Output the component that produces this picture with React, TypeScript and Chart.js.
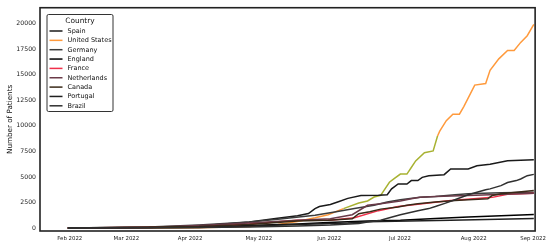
import React, { useEffect, useRef } from "react";
import { Chart, registerables } from "chart.js";

Chart.register(...registerables);

// x values: days after 1 Feb 2022 (position index)
const countries = ["Spain", "United States", "Germany", "England", "France", "Netherlands", "Canada", "Portugal", "Brazil"];

const spainX = [0, 37, 60, 83, 95, 105, 110, 113, 115, 120, 124, 128, 134, 142, 146, 148, 151, 155, 157, 160, 162, 165, 172, 175, 183, 187, 193, 201, 213];
const spainY = [0, 60, 200, 600, 940, 1200, 1420, 1900, 2100, 2300, 2600, 2900, 3190, 3200, 3250, 3830, 4310, 4310, 4640, 4640, 4960, 5120, 5220, 5770, 5770, 6090, 6250, 6570, 6670];

const usX = [0, 37, 60, 83, 96, 105, 113, 119, 126, 133, 137, 140, 143, 147, 149, 152, 155, 157, 159, 163, 167, 169, 170, 173, 176, 179, 181, 186, 191, 193, 197, 201, 204, 207, 210, 213];
const usY = [0, 5, 20, 150, 350, 650, 1000, 1300, 1900, 2450, 2650, 3030, 3190, 4480, 4800, 5280, 5280, 5920, 6570, 7370, 7540, 9000, 9470, 10500, 11140, 11140, 11880, 13980, 14140, 15430, 16550, 17360, 17360, 18160, 18810, 19930];

const germanyX = [0, 37, 60, 83, 96, 113, 122, 131, 140, 146, 152, 161, 168, 177, 183, 190, 198, 213];
const germanyY = [0, 100, 300, 600, 850, 1260, 1570, 1900, 2220, 2540, 2770, 3020, 3090, 3250, 3350, 3410, 3450, 3510];

const englandX = [0, 60, 83, 105, 119, 128, 137, 152, 168, 183, 198, 213];
const englandY = [0, 80, 250, 400, 550, 620, 700, 770, 940, 1090, 1190, 1320];

const franceX = [0, 60, 83, 105, 120, 131, 142, 151, 165, 175, 187, 194, 201, 213];
const franceY = [0, 100, 400, 750, 770, 1000, 1700, 2100, 2450, 2700, 2900, 3000, 3300, 3400];

const netherlandsX = [0, 37, 60, 83, 105, 120, 130, 137, 143, 152, 157, 161, 168, 183, 213];
const netherlandsY = [0, 80, 250, 500, 750, 900, 1300, 2220, 2380, 2640, 2870, 3020, 3090, 3190, 3410];

const canadaX = [0, 60, 83, 105, 119, 130, 133, 138, 143, 151, 155, 160, 168, 177, 183, 192, 194, 198, 205, 213];
const canadaY = [0, 150, 350, 700, 770, 900, 1400, 1600, 1850, 2060, 2220, 2380, 2540, 2700, 2770, 2870, 3190, 3350, 3510, 3670];

const portugalX = [0, 60, 83, 105, 128, 137, 175, 213];
const portugalY = [0, 50, 200, 350, 500, 610, 770, 940];

const brazilX = [0, 37, 60, 83, 105, 120, 133, 137, 143, 147, 152, 160, 165, 168, 172, 176, 183, 187, 191, 193, 198, 201, 205, 207, 210, 213];
const brazilY = [0, 20, 50, 100, 200, 300, 450, 600, 770, 1000, 1300, 1700, 1900, 2100, 2390, 2700, 3250, 3500, 3750, 3830, 4150, 4450, 4640, 4800, 5120, 5250];

const monthTickPos = [0.9, 26.8, 55.9, 87.3, 119.5, 151.8, 185.5, 212.7];
const monthTickLabels = ["Feb 2022", "Mar 2022", "Apr 2022", "May 2022", "Jun 2022", "Jul 2022", "Aug 2022", "Sep 2022"];
const yTicks = [0, 2500, 5000, 7500, 10000, 12500, 15000, 17500, 20000];

const seriesX = [spainX, usX, germanyX, englandX, franceX, netherlandsX, canadaX, portugalX, brazilX];
const seriesY = [spainY, usY, germanyY, englandY, franceY, netherlandsY, canadaY, portugalY, brazilY];
const colors = ["#1a1a1a", "#ff9a3c", "#3c3c3c", "#000000", "#f0304a", "#6a3a48", "#3a2a18", "#202020", "#303030"];

const FONT = "'DejaVu Sans', sans-serif";

const legendPlugin = {
  id: "boxLegend",
  afterDraw(chart: any) {
    const ctx = chart.ctx;
    const ca = chart.chartArea;
    ctx.save();
    ctx.strokeStyle = "#222";
    ctx.lineWidth = 1.6;
    ctx.strokeRect(ca.left, ca.top, ca.right - ca.left, ca.bottom - ca.top);
    const bx = 47, by = 14.5, bw = 66, bh = 97;
    ctx.fillStyle = "rgba(255,255,255,0.9)";
    ctx.strokeStyle = "#333";
    ctx.lineWidth = 1;
    ctx.beginPath();
    const r = 1.5;
    ctx.moveTo(bx + r, by);
    ctx.lineTo(bx + bw - r, by);
    ctx.quadraticCurveTo(bx + bw, by, bx + bw, by + r);
    ctx.lineTo(bx + bw, by + bh - r);
    ctx.quadraticCurveTo(bx + bw, by + bh, bx + bw - r, by + bh);
    ctx.lineTo(bx + r, by + bh);
    ctx.quadraticCurveTo(bx, by + bh, bx, by + bh - r);
    ctx.lineTo(bx, by + r);
    ctx.quadraticCurveTo(bx, by, bx + r, by);
    ctx.closePath();
    ctx.fill();
    ctx.stroke();
    ctx.fillStyle = "#111";
    ctx.font = `7.4px ${FONT}`;
    ctx.textAlign = "center";
    ctx.textBaseline = "middle";
    ctx.fillText("Country", 80, 21.5);
    ctx.textAlign = "left";
    ctx.font = `6.5px ${FONT}`;
    chart.data.datasets.forEach((ds: any, i: number) => {
      const y = 31 + i * 9.35;
      ctx.strokeStyle = ds.borderColor;
      ctx.lineWidth = 1.5;
      ctx.beginPath();
      ctx.moveTo(49.5, y);
      ctx.lineTo(62.5, y);
      ctx.stroke();
      ctx.fillStyle = "#111";
      ctx.fillText(ds.label, 67.5, y + 0.3);
    });
    ctx.restore();
  },
};

export default function App() {
  const ref = useRef<HTMLCanvasElement>(null);
  useEffect(() => {
    document.body.style.margin = "0";
    const datasets = countries.map((name, i) => ({
      label: name,
      data: seriesX[i].map((x, j) => ({ x, y: seriesY[i][j] })),
      borderColor: colors[i],
      borderWidth: 1.5,
      pointRadius: 0,
      tension: 0,
      segment:
        i === 1
          ? {
              borderColor: (c: any) =>
                c.p0.parsed.x >= 126 && c.p0.parsed.x < 169 ? "#a8b232" : undefined,
            }
          : undefined,
    }));
    const order = [8, 7, 6, 5, 4, 3, 2, 0, 1];
    datasets.forEach((d: any, i) => (d.order = order.indexOf(i)));
    const chart = new Chart(ref.current!, {
      type: "line",
      data: { datasets },
      plugins: [legendPlugin],
      options: {
        animation: false,
        responsive: false,
        layout: { padding: { top: 5, right: 12, left: 0, bottom: 0 } },
        plugins: { legend: { display: false }, tooltip: { enabled: false } },
        scales: {
          x: {
            type: "linear",
            min: -12.7,
            max: 213.6,
            grid: { display: false, drawTicks: false },
            border: { display: false },
            afterBuildTicks: (s: any) => {
              s.ticks = monthTickPos.map((v) => ({ value: v }));
            },
            afterFit: (s: any) => {
              s.height = 14;
            },
            ticks: {
              autoSkip: false,
              maxRotation: 0,
              minRotation: 0,
              padding: 4,
              color: "#222",
              font: { family: FONT, size: 5.4 },
              callback: (v: any) => {
                const i = monthTickPos.indexOf(Number(v));
                return i >= 0 ? monthTickLabels[i] : "";
              },
            },
          },
          y: {
            type: "linear",
            min: -290,
            max: 21550,
            grid: { display: false, drawTicks: false },
            border: { display: false },
            afterBuildTicks: (s: any) => {
              s.ticks = yTicks.map((v) => ({ value: v }));
            },
            afterFit: (s: any) => {
              s.width = 40;
            },
            title: {
              display: true,
              text: "Number of Patients",
              color: "#111",
              font: { family: FONT, size: 7.2 },
              padding: { top: 6, bottom: 0 },
            },
            ticks: {
              padding: 4,
              color: "#222",
              font: { family: FONT, size: 6.2 },
              callback: (v: any) => String(v),
            },
          },
        },
      },
    } as any);
    return () => chart.destroy();
  }, []);
  return (
    <div style={{ width: 550, height: 245 }}>
      <canvas ref={ref} width={550} height={245} style={{ display: "block" }} />
    </div>
  );
}
